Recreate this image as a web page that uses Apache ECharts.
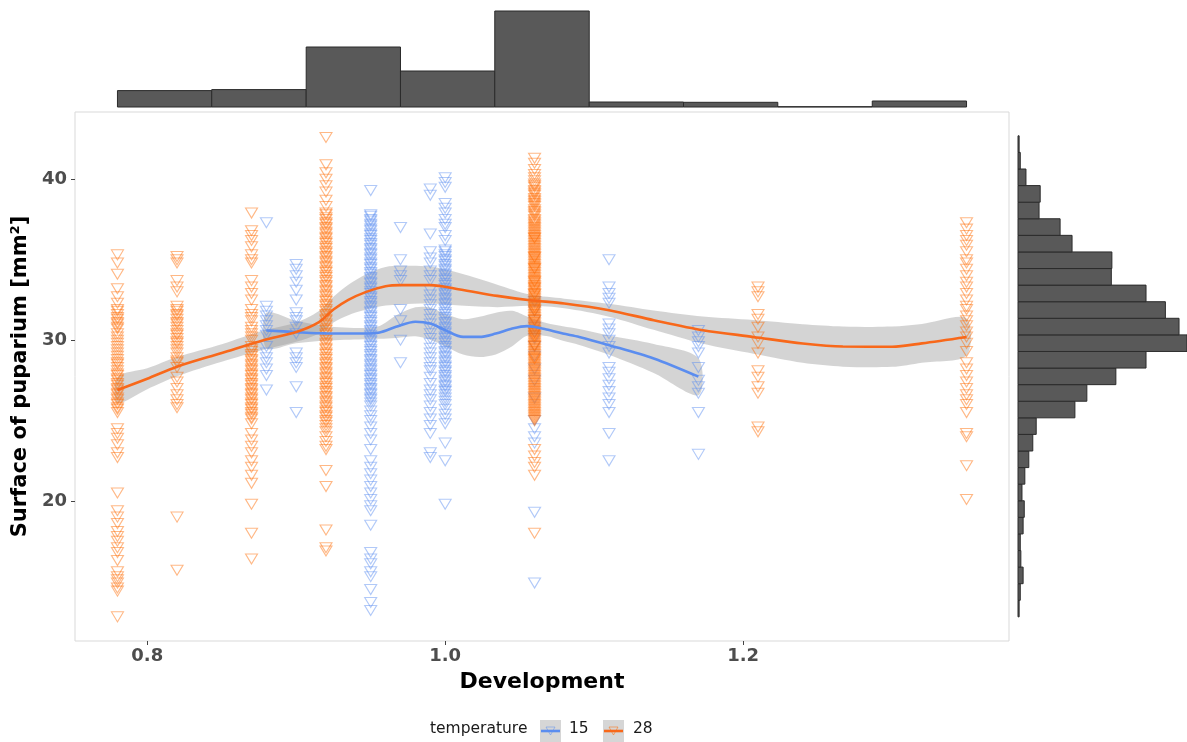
<!DOCTYPE html>
<html><head><meta charset="utf-8">
<script src="https://cdn.jsdelivr.net/npm/echarts@6/dist/echarts.min.js"></script>
<style>html,body{margin:0;padding:0;background:#fff}#c{width:1187px;height:742px}</style>
</head><body><div id="c"></div>
<script>
// ---------- axis ticks ----------
const xTicks = [0.8, 1.0, 1.2];
const yTicks = [20, 30, 40];

// ---------- scatter data: temperature 15 (blue) ----------
const blueX = [0.88, 0.90, 0.95, 0.97, 0.99, 1.00, 1.06, 1.11, 1.17];
const blue088 = [37.3, 32.1, 31.8, 31.5, 31.2, 30.9, 30.6, 30.3, 29.6, 29.2, 28.9, 28.6, 28.2, 27.8, 26.9];
const blue090 = [34.7, 34.4, 34.0, 33.6, 33.1, 32.5, 31.7, 31.4, 31.2, 30.8, 30.4, 29.2, 28.9, 28.6, 28.3, 27.1, 25.5];
const blue095 = [39.3, 37.8, 37.7, 37.5, 37.4, 37.2, 37.1, 36.9, 36.8, 36.6, 36.5, 36.3, 36.2, 36.0, 35.9, 35.7, 35.6, 35.4, 35.3, 35.1, 35.0, 34.8, 34.7, 34.5, 34.4, 34.2, 34.1, 33.9, 33.8, 33.6, 33.5, 33.3, 33.2, 33.0, 32.9, 32.7, 32.6, 32.4, 32.3, 32.1, 32.0, 31.8, 31.7, 31.5, 31.4, 31.2, 31.1, 30.9, 30.8, 30.6, 30.5, 30.3, 30.2, 30.0, 29.9, 29.7, 29.6, 29.4, 29.3, 29.1, 29.0, 28.8, 28.7, 28.5, 28.4, 28.2, 28.1, 27.9, 27.8, 27.6, 27.5, 27.3, 27.2, 27.0, 26.9, 26.7, 26.6, 26.4, 26.3, 26.1, 25.9, 25.6, 25.3, 25.0, 24.6, 24.2, 23.8, 23.2, 22.5, 22.1, 21.7, 21.3, 20.9, 20.5, 20.1, 19.7, 19.4, 18.5, 16.8, 16.4, 16.1, 15.6, 15.3, 14.5, 13.7, 13.2];
const blue097 = [37.0, 35.0, 34.3, 34.0, 33.7, 31.9, 31.2, 30.0, 28.6];
const blue099 = [39.4, 39.0, 36.6, 35.5, 35.1, 34.8, 34.3, 34.0, 33.7, 33.1, 32.8, 32.5, 32.2, 31.9, 31.6, 31.3, 31.0, 30.7, 30.4, 30.1, 29.8, 29.5, 29.2, 28.9, 28.6, 28.3, 28.1, 27.7, 27.3, 26.9, 26.6, 26.3, 25.9, 25.5, 25.1, 24.7, 24.2, 23.0, 22.7];
const blue100 = [40.1, 39.8, 39.5, 38.5, 38.2, 37.9, 37.5, 37.2, 37.0, 36.5, 36.2, 35.6, 35.5, 35.3, 35.2, 35.0, 34.9, 34.7, 34.6, 34.4, 34.3, 34.1, 34.0, 33.8, 33.7, 33.5, 33.4, 33.2, 33.1, 32.9, 32.8, 32.6, 32.5, 32.3, 32.2, 32.0, 31.9, 31.7, 31.6, 31.4, 31.3, 31.1, 31.0, 30.8, 30.7, 30.5, 30.4, 30.2, 30.1, 29.9, 29.8, 29.6, 29.5, 29.3, 29.2, 29.0, 28.9, 28.7, 28.6, 28.4, 28.3, 28.1, 28.0, 27.8, 27.7, 27.5, 27.4, 27.2, 27.1, 26.9, 26.8, 26.6, 26.4, 26.2, 26.0, 25.7, 25.4, 25.1, 24.8, 23.6, 22.5, 19.8];
const blue106 = [32.4, 31.8, 31.2, 30.8, 30.5, 30.1, 29.6, 29.0, 28.2, 27.5, 26.4, 25.0, 24.5, 24.0, 23.6, 19.3, 14.9];
const blue111 = [35.0, 33.3, 32.9, 32.6, 32.3, 31.0, 30.7, 30.4, 30.0, 29.6, 29.2, 28.3, 28.0, 27.6, 27.2, 26.8, 26.4, 26.0, 25.5, 24.2, 22.5];
const blue117 = [30.6, 30.2, 29.9, 29.6, 29.2, 28.3, 27.5, 27.1, 26.7, 25.5, 22.9];

// ---------- scatter data: temperature 28 (orange) ----------
const orangeX = [0.78, 0.82, 0.87, 0.92, 1.06, 1.21, 1.35];
const orange078 = [35.3, 34.8, 34.1, 33.2, 32.7, 32.3, 31.9, 31.8, 31.6, 31.4, 31.3, 31.1, 31.0, 30.8, 30.7, 30.4, 30.2, 30.0, 29.8, 29.6, 29.4, 29.2, 29.0, 28.8, 28.6, 28.5, 28.3, 28.1, 27.9, 27.8, 27.6, 27.5, 27.3, 27.2, 27.0, 26.9, 26.7, 26.6, 26.4, 26.3, 26.1, 26.0, 25.8, 25.7, 25.5, 24.5, 24.2, 23.9, 23.5, 23.0, 22.7, 20.5, 19.4, 19.0, 18.6, 18.1, 17.8, 17.5, 17.1, 16.8, 16.3, 15.6, 15.3, 15.1, 14.9, 14.6, 14.4, 12.8];
const orange082 = [35.2, 35.0, 34.8, 33.7, 33.3, 33.0, 32.1, 31.9, 31.8, 31.6, 31.5, 31.3, 31.1, 31.0, 30.8, 30.6, 30.4, 30.3, 30.1, 29.9, 29.8, 29.6, 29.4, 29.2, 28.9, 28.7, 28.6, 28.3, 27.7, 27.4, 27.0, 26.6, 26.3, 26.0, 25.8, 19.0, 15.7];
const orange087 = [37.9, 36.8, 36.5, 36.2, 35.8, 35.3, 35.0, 34.8, 33.7, 33.3, 32.9, 32.5, 31.9, 31.6, 31.4, 31.2, 30.8, 30.6, 30.4, 30.2, 30.0, 29.6, 29.4, 29.3, 29.1, 29.0, 28.8, 28.7, 28.5, 28.4, 28.2, 28.1, 27.9, 27.8, 27.6, 27.5, 27.3, 27.2, 27.0, 26.9, 26.7, 26.6, 26.4, 26.3, 26.1, 26.0, 25.8, 25.7, 25.5, 25.4, 25.2, 25.1, 24.8, 24.2, 23.8, 23.4, 23.0, 22.5, 22.1, 21.6, 21.1, 19.8, 18.0, 16.4];
const orange092 = [42.6, 40.9, 40.4, 40.0, 39.6, 39.2, 38.7, 38.3, 37.9, 37.8, 37.6, 37.5, 37.3, 37.2, 37.0, 36.9, 36.7, 36.6, 36.4, 36.3, 36.1, 36.0, 35.8, 35.7, 35.5, 35.4, 35.2, 35.1, 34.9, 34.8, 34.6, 34.5, 34.3, 34.2, 34.0, 33.9, 33.7, 33.6, 33.4, 33.3, 33.1, 33.0, 32.8, 32.7, 32.5, 32.4, 32.2, 32.1, 31.9, 31.8, 31.6, 31.5, 31.3, 31.2, 31.0, 30.9, 30.7, 30.6, 30.4, 30.3, 30.1, 30.0, 29.8, 29.7, 29.5, 29.4, 29.2, 29.1, 28.9, 28.8, 28.6, 28.5, 28.3, 28.2, 28.0, 27.9, 27.7, 27.6, 27.4, 27.3, 27.1, 27.0, 26.8, 26.7, 26.5, 26.4, 26.2, 26.1, 25.9, 25.8, 25.6, 25.5, 25.3, 25.2, 25.0, 24.9, 24.7, 24.5, 24.3, 24.0, 23.7, 23.4, 23.2, 21.9, 20.9, 18.2, 17.1, 16.9];
const orange106 = [41.3, 41.0, 40.6, 40.3, 40.1, 39.9, 39.7, 39.6, 39.5, 39.3, 39.2, 39.1, 39.0, 38.8, 38.7, 38.6, 38.5, 38.4, 38.3, 38.1, 38.0, 37.9, 37.8, 37.7, 37.5, 37.4, 37.3, 37.2, 37.1, 37.0, 36.9, 36.8, 36.7, 36.6, 36.5, 36.4, 36.35, 36.3, 36.2, 36.1, 36.0, 35.9, 35.8, 35.7, 35.6, 35.5, 35.4, 35.3, 35.2, 35.15, 35.1, 35.0, 34.9, 34.8, 34.7, 34.6, 34.5, 34.45, 34.4, 34.3, 34.2, 34.1, 34.0, 33.9, 33.8, 33.7, 33.65, 33.6, 33.5, 33.4, 33.3, 33.25, 33.2, 33.1, 33.0, 32.9, 32.85, 32.8, 32.7, 32.6, 32.5, 32.4, 32.3, 32.2, 32.1, 32.05, 32.0, 31.9, 31.85, 31.8, 31.7, 31.6, 31.5, 31.4, 31.3, 31.25, 31.2, 31.1, 31.0, 30.9, 30.8, 30.7, 30.6, 30.5, 30.45, 30.4, 30.3, 30.25, 30.2, 30.1, 30.0, 29.9, 29.8, 29.7, 29.65, 29.6, 29.5, 29.4, 29.3, 29.2, 29.1, 29.0, 28.9, 28.85, 28.8, 28.7, 28.6, 28.5, 28.4, 28.3, 28.2, 28.1, 28.0, 27.9, 27.8, 27.7, 27.6, 27.5, 27.4, 27.3, 27.2, 27.1, 27.0, 26.9, 26.8, 26.7, 26.6, 26.5, 26.4, 26.3, 26.2, 26.1, 26.0, 25.9, 25.8, 25.7, 25.6, 25.5, 25.4, 25.3, 25.2, 25.1, 25.0, 23.2, 22.8, 22.4, 22.1, 21.6, 18.0];
const orange121 = [33.3, 33.0, 32.7, 31.6, 31.3, 30.8, 30.2, 29.8, 29.2, 28.1, 27.7, 27.1, 26.7, 24.6, 24.3];
const orange135 = [37.3, 36.9, 36.5, 36.2, 35.9, 35.5, 35.0, 34.8, 34.4, 34.0, 33.6, 33.3, 32.9, 32.5, 32.1, 31.9, 31.5, 31.2, 30.9, 30.5, 30.2, 29.8, 29.3, 28.6, 28.2, 27.8, 27.4, 27.0, 26.6, 26.3, 26.0, 25.5, 24.2, 24.0, 22.2, 20.1];

// ---------- loess fits with confidence band ----------
const blueFitX  = [0.88, 0.90, 0.92, 0.945, 0.956, 0.967, 0.98, 0.99, 1.00, 1.012, 1.023, 1.034, 1.045, 1.055, 1.068, 1.079, 1.09, 1.11, 1.14, 1.17];
const blueFit   = [30.6, 30.5, 30.42, 30.41, 30.48, 30.83, 31.14, 31.03, 30.62, 30.2, 30.2, 30.41, 30.72, 30.87, 30.66, 30.41, 30.2, 29.69, 28.86, 27.73];
const blueLow   = [29.5, 29.8, 29.97, 30.06, 30.08, 30.13, 30.24, 30.03, 29.62, 29.1, 28.95, 29.11, 29.62, 30.27, 30.26, 29.96, 29.7, 29.09, 27.96, 26.58];
const blueHigh  = [31.7, 31.2, 30.87, 30.76, 30.88, 31.53, 32.04, 32.03, 31.62, 31.3, 31.45, 31.71, 31.82, 31.47, 31.06, 30.86, 30.7, 30.29, 29.76, 28.88];

const orangeFitX = [0.78, 0.80, 0.82, 0.85, 0.878, 0.90, 0.915, 0.925, 0.935, 0.947, 0.96, 0.97, 0.99, 1.01, 1.035, 1.057, 1.08, 1.11, 1.14, 1.173, 1.207, 1.24, 1.267, 1.30, 1.32, 1.35];
const orangeFit  = [26.9, 27.6, 28.35, 29.2, 30.0, 30.5, 31.1, 31.9, 32.5, 33.0, 33.35, 33.42, 33.42, 33.15, 32.75, 32.48, 32.28, 31.86, 31.24, 30.62, 30.2, 29.79, 29.6, 29.59, 29.8, 30.2];
const orangeLow  = [26.1, 26.95, 27.75, 28.65, 29.4, 29.9, 30.4, 31.1, 31.55, 31.9, 32.15, 32.22, 32.27, 32.15, 32.05, 32.13, 31.98, 31.46, 30.64, 29.77, 29.15, 28.59, 28.35, 28.34, 28.6, 29.05];
const orangeHigh = [27.7, 28.25, 28.95, 29.75, 30.6, 31.1, 31.8, 32.7, 33.45, 34.1, 34.55, 34.62, 34.57, 34.15, 33.45, 32.83, 32.58, 32.26, 31.84, 31.47, 31.25, 30.99, 30.85, 30.84, 31.0, 31.35];

// ---------- marginal histograms ----------
const devBinEdges = [0.78, 0.8433, 0.9067, 0.97, 1.0333, 1.0967, 1.16, 1.2233, 1.2867, 1.35];
const devCounts   = [164, 174, 600, 360, 960, 50, 47, 3, 60];
const surfBinStart = 12.8, surfBinWidth = 1.031;
const surfCounts  = [2, 4, 9, 5, 4, 9, 11, 7, 12, 19, 26, 32, 100, 121, 172, 225, 297, 283, 259, 225, 164, 165, 95, 74, 37, 39, 14, 4, 2];

// ---------- colours ----------
const BLUE_LINE = '#5B8DEF', ORANGE_LINE = '#F8681A';
const FONT = 'DejaVu Sans';

// ---------- build ----------
function buildPoints(xs, cols) {
  const out = [];
  xs.forEach((x, i) => cols[i].forEach(y => out.push([x, y])));
  return out;
}
const blueData = buildPoints(blueX, [blue088, blue090, blue095, blue097, blue099, blue100, blue106, blue111, blue117]);
const orangeData = buildPoints(orangeX, [orange078, orange082, orange087, orange092, orange106, orange121, orange135]);
const zip = (a, b) => a.map((v, i) => [v, b[i]]);

function bandRender(xs, lo, hi) {
  return function (params, api) {
    const pts = [];
    for (let i = 0; i < xs.length; i++) pts.push(api.coord([xs[i], lo[i]]));
    for (let i = xs.length - 1; i >= 0; i--) pts.push(api.coord([xs[i], hi[i]]));
    return { type: 'polygon', shape: { points: pts, smooth: 0.3 }, style: { fill: 'rgba(153,153,153,0.42)' } };
  };
}

const devHist = devCounts.map((c, i) => [devBinEdges[i], devBinEdges[i + 1], c]);
const surfHist = surfCounts.map((c, i) => [surfBinStart + i * surfBinWidth, surfBinStart + (i + 1) * surfBinWidth, c]);

const XMIN = 0.7515, XMAX = 1.3785, YMIN = 11.3, YMAX = 44.18;

const scatterStyle = (rgba) => ({
  type: 'scatter', symbol: 'triangle', symbolRotate: 180, symbolSize: [12, 10],
  itemStyle: { color: 'rgba(0,0,0,0)', borderColor: rgba, borderWidth: 1.1 },
  silent: true, emphasis: { disabled: true }, xAxisIndex: 0, yAxisIndex: 0
});

const chart = echarts.init(document.getElementById('c'), null, { renderer: 'canvas' });
chart.setOption({
  animation: false,
  backgroundColor: '#ffffff',
  textStyle: { fontFamily: FONT },
  grid: [
    { left: 75, top: 112, width: 934, height: 529, show: true, borderColor: '#D9D9D9', borderWidth: 1, backgroundColor: 'rgba(0,0,0,0)', containLabel: false, outerBoundsMode: 'none' },
    { left: 75, top: 11, width: 934, height: 96, show: false, containLabel: false, outerBoundsMode: 'none' },
    { left: 1018, top: 112, width: 169, height: 529, show: false, containLabel: false, outerBoundsMode: 'none' }
  ],
  xAxis: [
    {
      gridIndex: 0, type: 'value', min: XMIN, max: XMAX,
      axisLine: { show: false },
      axisTick: { show: true, customValues: xTicks, length: 4, lineStyle: { color: '#444', width: 1 } },
      axisLabel: { customValues: xTicks, formatter: v => v.toFixed(1), fontSize: 18, fontWeight: 'bold', color: '#4D4D4D', margin: 6, fontFamily: FONT },
      splitLine: { show: false },
      name: 'Development', nameLocation: 'middle', nameGap: 30,
      nameTextStyle: { fontSize: 22, fontWeight: 'bold', color: '#000', fontFamily: FONT }
    },
    { gridIndex: 1, type: 'value', min: XMIN, max: XMAX, show: false },
    { gridIndex: 2, type: 'value', min: 0, max: 297, show: false }
  ],
  yAxis: [
    {
      gridIndex: 0, type: 'value', min: YMIN, max: YMAX,
      axisLine: { show: false },
      axisTick: { show: true, customValues: yTicks, length: 4, lineStyle: { color: '#444', width: 1 } },
      axisLabel: { customValues: yTicks, fontSize: 18, fontWeight: 'bold', color: '#4D4D4D', margin: 8, fontFamily: FONT },
      splitLine: { show: false },
      name: 'Surface of puparium [mm²]', nameLocation: 'middle', nameGap: 34,
      nameTextStyle: { fontSize: 21, fontWeight: 'bold', color: '#000', fontFamily: FONT }
    },
    { gridIndex: 1, type: 'value', min: 0, max: 960, show: false },
    { gridIndex: 2, type: 'value', min: YMIN, max: YMAX, show: false }
  ],
  series: [
    Object.assign(scatterStyle('rgba(91,143,240,0.6)'), { name: '15', data: blueData }),
    Object.assign(scatterStyle('rgba(255,106,0,0.6)'), { name: '28', data: orangeData }),
    {
      type: 'custom', xAxisIndex: 0, yAxisIndex: 0, silent: true,
      data: [[1.0, 30]], encode: { x: 0, y: 1 },
      renderItem: bandRender(blueFitX, blueLow, blueHigh)
    },
    {
      type: 'line', xAxisIndex: 0, yAxisIndex: 0, data: zip(blueFitX, blueFit), smooth: 0.3,
      showSymbol: false, silent: true, lineStyle: { color: BLUE_LINE, width: 2.6 }
    },
    {
      type: 'custom', xAxisIndex: 0, yAxisIndex: 0, silent: true,
      data: [[1.0, 30]], encode: { x: 0, y: 1 },
      renderItem: bandRender(orangeFitX, orangeLow, orangeHigh)
    },
    {
      type: 'line', xAxisIndex: 0, yAxisIndex: 0, data: zip(orangeFitX, orangeFit), smooth: 0.3,
      showSymbol: false, silent: true, lineStyle: { color: ORANGE_LINE, width: 2.6 }
    },
    {
      type: 'custom', xAxisIndex: 1, yAxisIndex: 1, silent: true,
      data: devHist, encode: { x: [0, 1], y: 2 },
      renderItem: function (params, api) {
        const p0 = api.coord([api.value(0), 0]);
        const p1 = api.coord([api.value(1), api.value(2)]);
        return { type: 'rect', shape: { x: p0[0], y: p1[1], width: p1[0] - p0[0], height: p0[1] - p1[1] },
          style: { fill: '#595959', stroke: '#2b2b2b', lineWidth: 1 } };
      }
    },
    {
      type: 'custom', xAxisIndex: 2, yAxisIndex: 2, silent: true,
      data: surfHist, encode: { x: 2, y: [0, 1] },
      renderItem: function (params, api) {
        const p0 = api.coord([0, api.value(0)]);
        const p1 = api.coord([api.value(2), api.value(1)]);
        return { type: 'rect', shape: { x: p0[0], y: p1[1], width: p1[0] - p0[0], height: p0[1] - p1[1] },
          style: { fill: '#595959', stroke: '#2b2b2b', lineWidth: 1 } };
      }
    }
  ],
  graphic: [
    { type: 'text', left: 430, top: 721, style: { text: 'temperature', fontSize: 15.5, fontFamily: FONT, fill: '#1a1a1a' } },
    { type: 'rect', left: 540, top: 720, shape: { width: 21, height: 22 }, style: { fill: '#D6D6D6' } },
    { type: 'polygon', shape: { points: [[546, 727], [555, 727], [550.5, 735]] }, style: { fill: 'none', stroke: 'rgba(91,143,240,0.5)', lineWidth: 1 } },
    { type: 'line', shape: { x1: 541, y1: 731, x2: 560, y2: 731 }, style: { stroke: BLUE_LINE, lineWidth: 2.6 } },
    { type: 'text', left: 569, top: 721, style: { text: '15', fontSize: 15.5, fontFamily: FONT, fill: '#1a1a1a' } },
    { type: 'rect', left: 603, top: 720, shape: { width: 21, height: 22 }, style: { fill: '#D6D6D6' } },
    { type: 'polygon', shape: { points: [[609, 727], [618, 727], [613.5, 735]] }, style: { fill: 'none', stroke: 'rgba(255,106,0,0.5)', lineWidth: 1 } },
    { type: 'line', shape: { x1: 604, y1: 731, x2: 623, y2: 731 }, style: { stroke: ORANGE_LINE, lineWidth: 2.6 } },
    { type: 'text', left: 633, top: 721, style: { text: '28', fontSize: 15.5, fontFamily: FONT, fill: '#1a1a1a' } }
  ]
});
</script></body></html>
